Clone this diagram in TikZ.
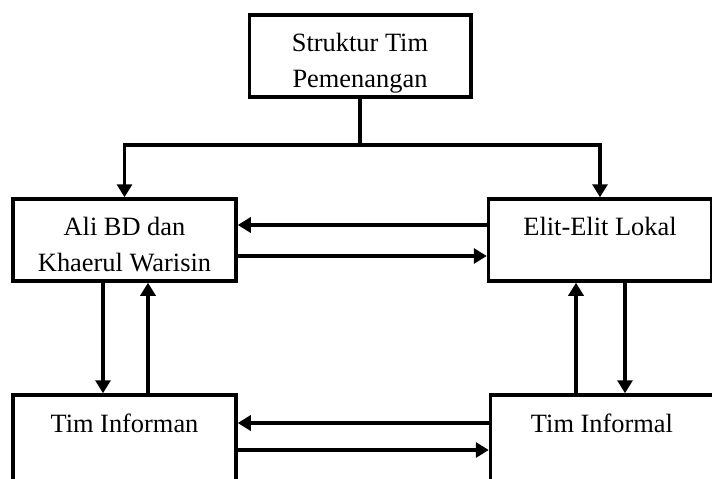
\documentclass[tikz,border=0pt]{standalone}
\usepackage{fontspec}
\setmainfont{Liberation Serif}
\usetikzlibrary{arrows.meta}
\tikzset{ kotak/.style = { rectangle
                         , draw = black
                         , line width   = 3.5pt
                         , inner sep    = 0pt
                         , minimum width  = 223pt
                         , minimum height = 82pt
                         },
          tulisan/.style = { anchor    = north
                           , align     = center
                           , inner sep = 0pt
                           , font      = \fontsize{26.4}{36}\selectfont
                           },
          garis/.style = { draw = black
                         , line width = 3.2pt
                         },
          panah/.style = { garis
                         , -{Triangle[length=13pt,width=15pt]}
                         }
        }

\begin{document}
\begin{tikzpicture}[x=1pt,y=-1pt]
            \useasboundingbox (0,0) rectangle (712,479);
            \clip (0,0) rectangle (712,479);
            \node[kotak, minimum width=221.5pt] (struktur) at (360,56) {};
            \node[kotak] (ali)      at (124.5,240) {};
            \node[kotak] (elit)     at (600,240)   {};
            \node[kotak, minimum height=90pt] (informan) at (124.5,440) {};
            \node[kotak, minimum height=90pt] (informal) at (602,440)   {};
            \node[tulisan] at ([yshift=-20pt]struktur.north) {Struktur Tim\\Pemenangan};
            \node[tulisan] at ([yshift=-20pt]ali.north)      {Ali BD dan\\Khaerul Warisin};
            \node[tulisan] at ([yshift=-20pt]elit.north)     {Elit-Elit Lokal};
            \node[tulisan] at ([yshift=-20pt]informan.north) {Tim Informan};
            \node[tulisan] at ([yshift=-20pt]informal.north) {Tim Informal};
            %cabang dari struktur ke dua kotak
            \coordinate (cabang) at (struktur.south |- 0,145);
            \path[garis] (struktur.south) -- (cabang);
            \path[panah] (cabang) -| (ali.north);
            \path[panah] (cabang) -| (elit.north);
            \path[panah] (elit.west |- 0,225) -- (ali.east |- 0,225);
            \path[panah] (ali.east |- 0,256)  -- (elit.west |- 0,256);
            \path[panah] (ali.south -| 103,0) -- (informan.north -| 103,0);
            \path[panah] (informan.north -| 148,0) -- (ali.south -| 148,0);
            \path[panah] (informal.north -| 576,0) -- (elit.south -| 576,0);
            \path[panah] (elit.south -| 625,0) -- (informal.north -| 625,0);
            \path[panah] (informal.west |- 0,423) -- (informan.east |- 0,423);
            \path[panah] (informan.east |- 0,450) -- (informal.west |- 0,450);
\end{tikzpicture}
\end{document}
